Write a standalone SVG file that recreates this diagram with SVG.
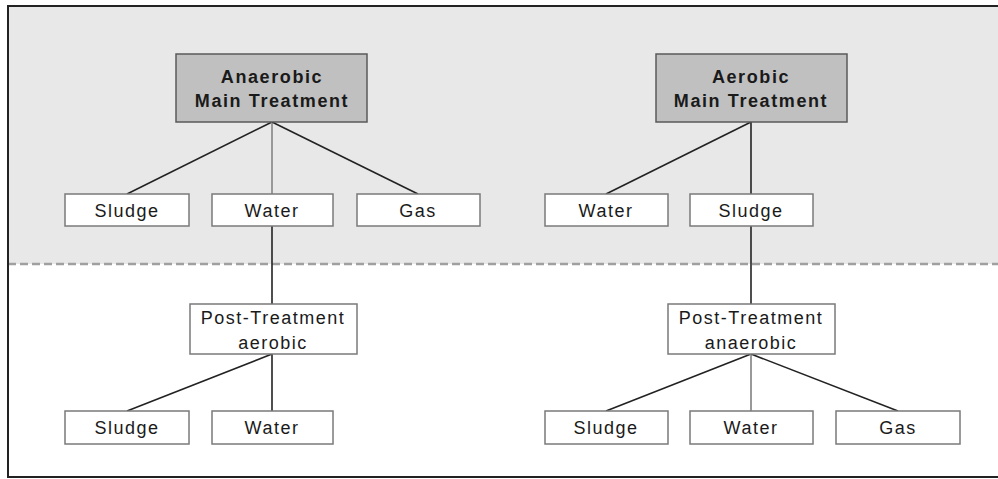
<svg xmlns="http://www.w3.org/2000/svg" width="998" height="479" viewBox="0 0 998 479">
<style>
.main{fill:#c0c0c0;stroke:#5a5a5a;stroke-width:1.5}
.box{fill:#ffffff;stroke:#7a7a7a;stroke-width:1.5}
.t{font-family:"Liberation Sans",Arial,sans-serif;font-size:18px;fill:#1a1a1a;text-anchor:middle;letter-spacing:1.5px}
.b{font-weight:bold;letter-spacing:1.6px}
.ln{stroke:#222;stroke-width:1.6;fill:none}
.lg{stroke:#999;stroke-width:2;fill:none}
</style>
<rect x="0" y="0" width="998" height="479" fill="#ffffff"/>
<rect x="8" y="6" width="995" height="258" fill="#e8e8e8"/>
<line x1="8" y1="264" x2="998" y2="264" stroke="#a0a0a0" stroke-width="2.5" stroke-dasharray="8,4"/>
<rect x="8" y="6" width="995" height="471" fill="none" stroke="#222" stroke-width="2"/>
<g id="connectors">
<line class="ln" x1="272" y1="122" x2="127" y2="194"/>
<line class="lg" x1="272" y1="122" x2="272" y2="194"/>
<line class="ln" x1="272" y1="122" x2="418" y2="194"/>
<line class="ln" x1="272" y1="226" x2="272" y2="304"/>
<line class="ln" x1="272" y1="354" x2="127" y2="411"/>
<line class="ln" x1="272" y1="354" x2="272" y2="411"/>
<line class="ln" x1="751" y1="122" x2="606" y2="194"/>
<line class="ln" x1="751" y1="122" x2="751" y2="194"/>
<line class="ln" x1="751" y1="226" x2="751" y2="304"/>
<line class="ln" x1="751" y1="354" x2="606" y2="411"/>
<line class="lg" x1="751" y1="354" x2="751" y2="411"/>
<line class="ln" x1="751" y1="354" x2="898" y2="411"/>
</g>
<g id="anaerobic-main">
<rect class="main" x="176" y="54" width="191" height="68"/>
<text class="t b" x="272" y="83">Anaerobic</text>
<text class="t b" x="272" y="107">Main Treatment</text>
</g>
<g id="an-sludge"><rect class="box" x="65" y="194" width="124" height="32"/><text class="t" x="127" y="217">Sludge</text></g>
<g id="an-water"><rect class="box" x="212" y="194" width="121" height="32"/><text class="t" x="272" y="217">Water</text></g>
<g id="an-gas"><rect class="box" x="357" y="194" width="123" height="32"/><text class="t" x="418" y="217">Gas</text></g>
<g id="post-aerobic">
<rect class="box" x="190" y="304" width="167" height="50"/>
<text class="t" x="273" y="324">Post-Treatment</text>
<text class="t" x="273" y="349">aerobic</text>
</g>
<g id="pa-sludge"><rect class="box" x="65" y="411" width="124" height="33"/><text class="t" x="127" y="434">Sludge</text></g>
<g id="pa-water"><rect class="box" x="212" y="411" width="121" height="33"/><text class="t" x="272" y="434">Water</text></g>
<g id="aerobic-main">
<rect class="main" x="656" y="54" width="191" height="68"/>
<text class="t b" x="751" y="83">Aerobic</text>
<text class="t b" x="751" y="107">Main Treatment</text>
</g>
<g id="ae-water"><rect class="box" x="545" y="194" width="123" height="32"/><text class="t" x="606" y="217">Water</text></g>
<g id="ae-sludge"><rect class="box" x="690" y="194" width="123" height="32"/><text class="t" x="751" y="217">Sludge</text></g>
<g id="post-anaerobic">
<rect class="box" x="668" y="304" width="167" height="50"/>
<text class="t" x="751" y="324">Post-Treatment</text>
<text class="t" x="751" y="349">anaerobic</text>
</g>
<g id="pn-sludge"><rect class="box" x="545" y="411" width="123" height="33"/><text class="t" x="606" y="434">Sludge</text></g>
<g id="pn-water"><rect class="box" x="690" y="411" width="123" height="33"/><text class="t" x="751" y="434">Water</text></g>
<g id="pn-gas"><rect class="box" x="836" y="411" width="124" height="33"/><text class="t" x="898" y="434">Gas</text></g>
</svg>
